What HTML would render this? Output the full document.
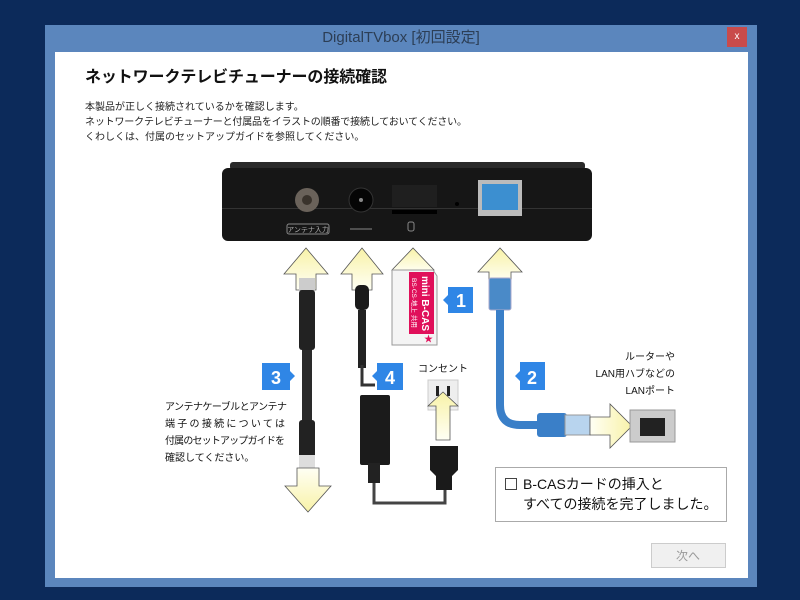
<!DOCTYPE html>
<html><head><meta charset="utf-8"><style>
body{margin:0;width:800px;height:600px;background:#0c2a5a;position:relative;overflow:hidden;font-family:"Liberation Sans","Noto Sans CJK JP",sans-serif}
.win{position:absolute;left:45px;top:25px;width:712px;height:562px;background:#5b86bd}
.title{position:absolute;left:0;top:0;width:712px;height:28px;line-height:26px;text-align:center;font-size:15px;color:#2c3e55}
.close{position:absolute;left:682px;top:2px;width:20px;height:20px;background:#c94b4b;color:#fff;font-size:10px;line-height:20px;text-align:center}
.content{position:absolute;left:10px;top:27px;width:693px;height:526px;background:#fff}
</style></head><body>
<div class="win">
<div class="title">DigitalTVbox [初回設定]</div>
<div class="close">x</div>
<div class="content"></div>
</div>
<svg width="800" height="600" style="position:absolute;left:0;top:0" font-family="Liberation Sans, Noto Sans CJK JP, sans-serif">
<defs>
<linearGradient id="ya" x1="0" y1="0" x2="0" y2="1"><stop offset="0" stop-color="#f8f2a8"/><stop offset="1" stop-color="#fffff4"/></linearGradient>
<linearGradient id="yd" x1="0" y1="0" x2="0" y2="1"><stop offset="0" stop-color="#fffff4"/><stop offset="1" stop-color="#f8f2a8"/></linearGradient>
<linearGradient id="yr" x1="0" y1="0" x2="1" y2="0"><stop offset="0" stop-color="#fffff4"/><stop offset="1" stop-color="#f8f2a8"/></linearGradient>
</defs>
<text x="85" y="82" font-size="16" font-weight="bold" fill="#111" textLength="302">ネットワークテレビチューナーの接続確認</text>
<g font-size="10" fill="#222">
<text x="85" y="110">本製品が正しく接続されているかを確認します。</text>
<text x="85" y="125" textLength="382">ネットワークテレビチューナーと付属品をイラストの順番で接続しておいてください。</text>
<text x="85" y="140">くわしくは、付属のセットアップガイドを参照してください。</text>
</g>
<!-- device -->
<rect x="230" y="162" width="355" height="8" rx="3" fill="#2a2a2a"/>
<rect x="222" y="168" width="370" height="73" rx="6" fill="#161616"/>
<rect x="222" y="208" width="370" height="1" fill="#333"/>
<circle cx="307" cy="200" r="12" fill="#6a625a"/><circle cx="307" cy="200" r="5" fill="#3a332c"/>
<circle cx="361" cy="200" r="12" fill="#050505" stroke="#333"/><circle cx="361" cy="200" r="2" fill="#888"/>
<rect x="392" y="185" width="45" height="22" fill="#1f1f1f"/><rect x="392" y="210" width="45" height="4" fill="#000"/>
<circle cx="457" cy="204" r="2" fill="#000"/>
<rect x="478" y="180" width="44" height="36" fill="#bbb"/><rect x="482" y="184" width="36" height="26" fill="#3c8fd0"/>
<rect x="287" y="224" width="42" height="10" rx="2" fill="none" stroke="#888"/><text x="308" y="232" font-size="7" fill="#aaa" text-anchor="middle">アンテナ入力</text>
<g stroke="#888"><line x1="350" y1="229" x2="372" y2="229"/></g>
<rect x="408" y="222" width="6" height="9" rx="2" fill="none" stroke="#888"/>
<!-- up arrows -->
<path d="M296 290V274H284L306 248L328 274H316V290Z" fill="url(#ya)" stroke="#555" stroke-width=".8"/>
<path d="M352 290V274H341L362 248L383 274H372V290Z" fill="url(#ya)" stroke="#555" stroke-width=".8"/>
<path d="M403 272V270H392L413 248L434 270H423V272Z" fill="url(#ya)" stroke="#555" stroke-width=".8"/>
<path d="M489 282V272H478L500 248L522 272H511V282Z" fill="url(#ya)" stroke="#555" stroke-width=".8"/>
<!-- antenna cable -->
<rect x="299" y="278" width="16" height="12" fill="#ccc"/>
<rect x="299" y="290" width="16" height="60" rx="3" fill="#222"/>
<rect x="302" y="350" width="10" height="70" fill="#2a2a2a"/>
<rect x="299" y="420" width="16" height="40" rx="3" fill="#222"/>
<rect x="299" y="455" width="16" height="15" fill="#ddd"/>
<path d="M297 468V486H285L308 512L331 486H319V468Z" fill="url(#yd)" stroke="#555" stroke-width=".8"/>
<!-- DC cable -->
<rect x="355" y="285" width="14" height="25" rx="5" fill="#1a1a1a"/>
<rect x="358" y="310" width="8" height="58" fill="#222"/>
<path d="M362 365 V385 H375" stroke="#333" stroke-width="3" fill="none"/>
<rect x="360" y="395" width="30" height="70" rx="2" fill="#1b1b1b"/>
<rect x="368" y="463" width="12" height="20" fill="#222"/>
<path d="M374 483 V503 H445 V485" stroke="#444" stroke-width="3" fill="none"/>
<!-- outlet & plug -->
<text x="443" y="372" font-size="10" fill="#111" text-anchor="middle">コンセント</text>
<rect x="428" y="380" width="30" height="30" fill="#eee" stroke="#ccc"/>
<rect x="436" y="386" width="3" height="10" fill="#222"/><rect x="447" y="386" width="3" height="10" fill="#222"/>
<path d="M436 440V406H428L443 392L458 406H450V440Z" fill="url(#ya)" stroke="#555" stroke-width=".8"/>
<path d="M430 446H458V470L452 476V490H436V476L430 470Z" fill="#1a1a1a"/>
<!-- card -->
<path d="M392 270H433L437 276V345H392Z" fill="#f4f4f4" stroke="#999"/>
<rect x="409" y="272" width="25" height="62" fill="#e0105a"/>
<text transform="translate(422,276) rotate(90)" font-size="10" font-weight="bold" fill="#fff">mini B-CAS</text>
<text transform="translate(412,278) rotate(90)" font-size="6.5" fill="#fff">BS·CS·地上 共用</text>
<text x="424" y="342" font-size="9" fill="#e0105a">★</text>
<!-- LAN cable -->
<rect x="489" y="278" width="22" height="32" rx="2" fill="#4a8ac8" stroke="#aac"/>
<path d="M500 310 V405 Q500 425 520 425 H540" stroke="#3a7fc8" stroke-width="8" fill="none"/>
<rect x="537" y="413" width="30" height="24" rx="3" fill="#3a7fc8"/>
<rect x="565" y="415" width="25" height="20" fill="#b8d4ee" stroke="#999"/>
<path d="M590 417H610V404L632 426L610 448V435H590Z" fill="url(#yr)" stroke="#555" stroke-width=".8"/>
<rect x="630" y="410" width="45" height="32" fill="#ccc" stroke="#999"/>
<path d="M640 418H665V436H640Z" fill="#222"/>
<g font-size="10" fill="#111" text-anchor="end">
<text x="675" y="360">ルーターや</text>
<text x="675" y="377">LAN用ハブなどの</text>
<text x="675" y="394">LANポート</text>
</g>
<!-- labels -->
<g font-size="18" font-weight="bold" fill="#fff" text-anchor="middle">
<path d="M448 287H473V313H448V305L443 300L448 295Z" fill="#2f86e6"/><text x="461" y="307">1</text>
<path d="M520 362H545V390H520V381L515 376L520 371Z" fill="#2f86e6"/><text x="532" y="384">2</text>
<path d="M262 363H290V371L295 376L290 381V390H262Z" fill="#2f86e6"/><text x="276" y="384">3</text>
<path d="M377 363H403V390H377V381L372 376L377 371Z" fill="#2f86e6"/><text x="390" y="384">4</text>
</g>
<g font-size="10" fill="#111">
<text x="165" y="410" textLength="122">アンテナケーブルとアンテナ</text>
<text x="165" y="427" textLength="120">端子の接続については</text>
<text x="165" y="444" textLength="120">付属のセットアップガイドを</text>
<text x="165" y="461">確認してください。</text>
</g>
<!-- checkbox -->
<rect x="495.5" y="467.5" width="231" height="54" fill="#fff" stroke="#aaa"/>
<rect x="505.5" y="478.5" width="11" height="11" fill="#fff" stroke="#444"/>
<text x="523" y="489" font-size="14" fill="#111">B-CASカードの挿入と</text>
<text x="523" y="509" font-size="14" fill="#111">すべての接続を完了しました。</text>
<rect x="651.5" y="543.5" width="74" height="24" fill="#f0f0f0" stroke="#ccc"/>
<text x="688" y="560" font-size="12" fill="#999" text-anchor="middle">次へ</text>
</svg>
</body></html>
